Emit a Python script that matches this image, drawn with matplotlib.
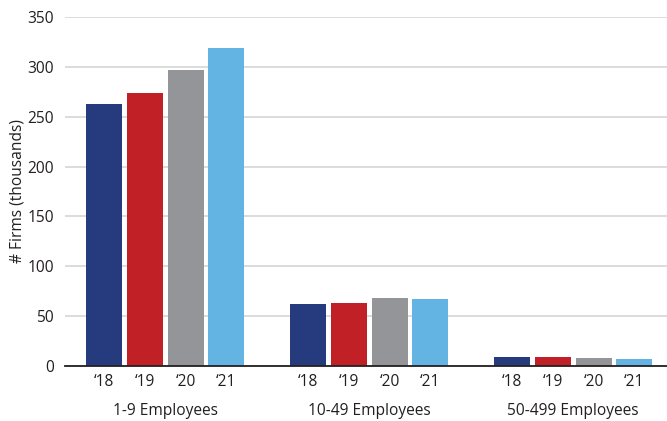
import matplotlib.pyplot as plt
import numpy as np

plt.rcParams['font.family'] = ['Open Sans', 'DejaVu Sans']

groups = ['1-9 Employees', '10-49 Employees', '50-499 Employees']
years = ['\u201818', '\u201819', '\u201820', '\u201821']
v2018 = [263, 62, 9]
v2019 = [274, 63, 9]
v2020 = [297, 68, 8]
v2021 = [319, 67, 7]
colors = ['#263a7e', '#c12026', '#939598', '#63b3e3']

series = [v2018, v2019, v2020, v2021]

fig = plt.figure(figsize=(6.67, 4.21), dpi=100)
ax = fig.add_axes([0.0975, 0.1306, 0.9025, 0.829])

ticks = []
ticklabels = []
for j, vals in enumerate(series):
    x = np.arange(len(groups)) * 5 + j
    ax.bar(x, vals, width=0.88, color=colors[j], zorder=3)
    for g in range(len(groups)):
        ticks.append(g * 5 + j)
        ticklabels.append(years[j])

fs = 11.2
ax.set_xticks(ticks)
ax.set_xticklabels(ticklabels, fontsize=fs, color='#231f20')
ax.tick_params(axis='x', length=0, pad=6)
ax.tick_params(axis='y', length=0, pad=8, labelsize=fs, labelcolor='#231f20')

for g, name in enumerate(groups):
    ax.text(g * 5 + 1.5, -0.13, name, transform=ax.get_xaxis_transform(),
            ha='center', va='center', fontsize=fs, color='#231f20')

ax.set_ylim(0, 350)
ax.set_yticks(range(0, 351, 50))
ax.set_xlim(-0.956, 13.8)
ax.yaxis.grid(True, color='#d9d9d9', linewidth=1.3, zorder=0)
for s in ['top', 'right', 'left']:
    ax.spines[s].set_visible(False)
ax.spines['bottom'].set_color('#231f20')
ax.spines['bottom'].set_linewidth(1.3)
ax.spines['bottom'].set_zorder(4)

ax.set_ylabel('# Firms (thousands)', fontsize=fs, color='#231f20', labelpad=1)

fig.savefig('out.png', dpi=100)
